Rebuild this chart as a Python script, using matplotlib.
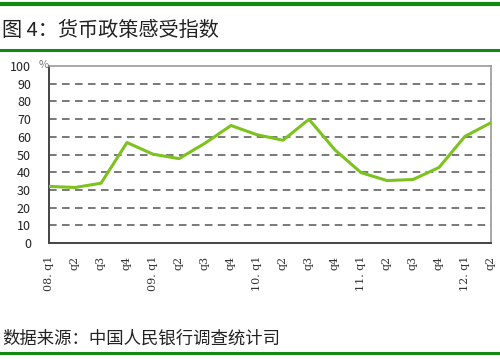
import matplotlib.pyplot as plt
from matplotlib.lines import Line2D

plt.rcParams['font.family'] = ['Noto Sans CJK SC', 'DejaVu Sans']

quarters = ['08. q1', 'q2', 'q3', 'q4', '09. q1', 'q2', 'q3', 'q4',
            '10. q1', 'q2', 'q3', 'q4', '11. q1', 'q2', 'q3', 'q4',
            '12. q1', 'q2']
index_values = [32.0, 31.4, 33.8, 56.8, 50.2, 47.7, 56.4, 66.4,
                61.2, 58.1, 69.9, 52.6, 39.8, 35.3, 35.9, 42.7,
                60.3, 68.0]
y_ticks = [0, 10, 20, 30, 40, 50, 60, 70, 80, 90, 100]

fig = plt.figure(figsize=(5, 3.59), dpi=100)
ax = fig.add_axes([0.098, 0.323, 0.884, 0.493])

x = range(len(quarters))
ax.plot(x, index_values, color='#7dc21e', linewidth=2.2, zorder=3)

ax.set_xlim(0, len(quarters) - 1)
ax.set_ylim(0, 100)
ax.set_yticks(y_ticks)
ax.set_yticklabels([str(v) for v in y_ticks], fontsize=9, color='#222222')
ax.set_xticks(list(x))
ax.set_xticklabels(quarters, rotation=90, fontsize=8, color='#333333',
                   family='DejaVu Serif')
ax.tick_params(length=0)
ax.tick_params(axis='y', pad=13)
ax.tick_params(axis='x', pad=9)

for v in y_ticks[1:-1]:
    ax.axhline(v, color='#555555', linestyle=(0, (5, 3.5)), linewidth=1.1, zorder=1)

for side in ['top', 'right']:
    ax.spines[side].set_color('#999999')
    ax.spines[side].set_linewidth(1.2)
for side in ['left', 'bottom']:
    ax.spines[side].set_color('#444444')
    ax.spines[side].set_linewidth(1.4)

fig.text(0.077, 0.81, '%', fontsize=8, color='#777777')

# header / footer rules
fig.add_artist(Line2D([0, 1], [0.99, 0.99], color='#128a12', linewidth=3))
fig.add_artist(Line2D([0, 1], [0.861, 0.861], color='#128a12', linewidth=2.2))
fig.add_artist(Line2D([0, 1], [0.017, 0.017], color='#128a12', linewidth=2.2))

fig.text(0.004, 0.916, '图 4：货币政策感受指数', fontsize=14.5, color='#222222', va='center')
fig.text(0.004, 0.056, '数据来源：中国人民银行调查统计司', fontsize=12.5,
         color='#222222', va='center')

fig.savefig('out.png', dpi=100)
